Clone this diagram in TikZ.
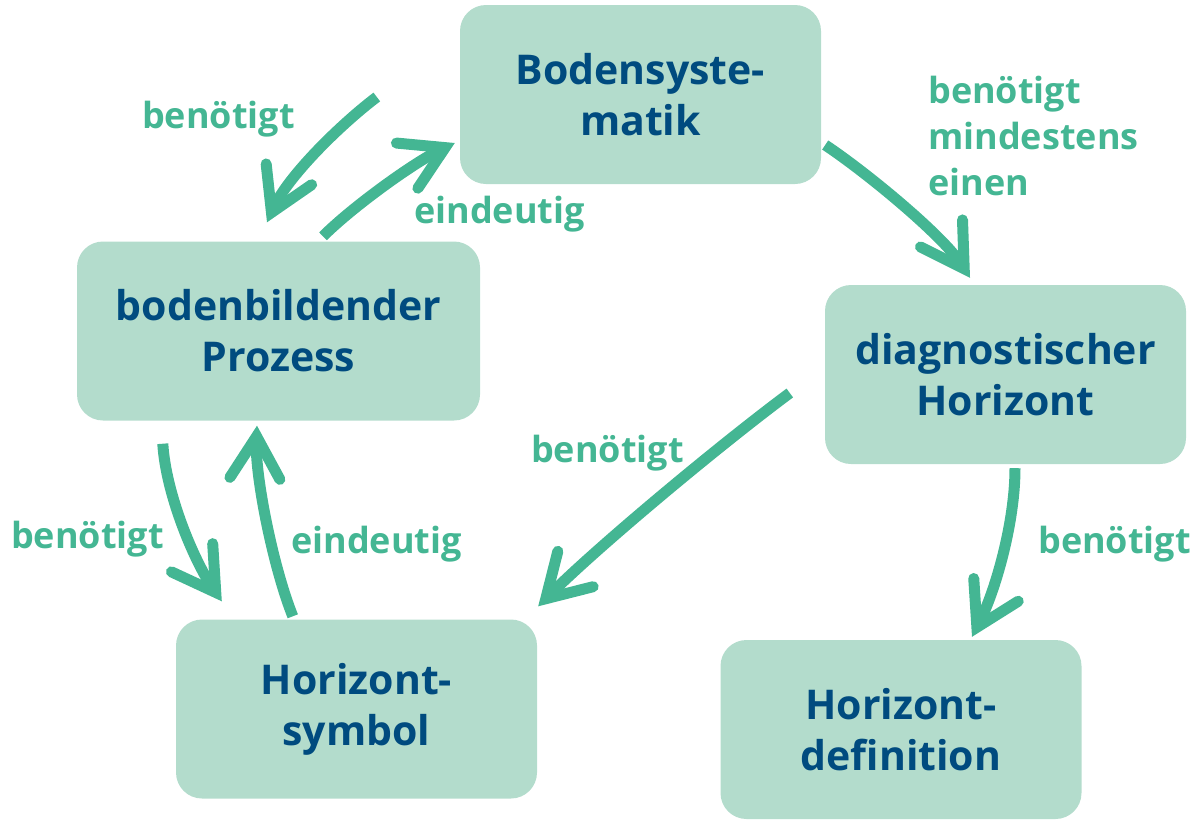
\documentclass[tikz,border=0pt]{standalone}
\usepackage{fontspec}
\setmainfont{Open Sans}
\usetikzlibrary{arrows.meta}
\definecolor{boxfill}{HTML}{B3DCCC}
\definecolor{boxtext}{HTML}{004B7F}
\definecolor{arrowgreen}{HTML}{44B693}

\begin{document}
\begin{tikzpicture}[x=1pt,y=-1pt,
  box/.style={rectangle, rounded corners=26pt, fill=boxfill, text=boxtext,
    minimum width=361pt, minimum height=179pt, inner sep=0pt, align=center,
    font=\fontsize{41}{51}\selectfont\bfseries},
  lbl/.style={text=arrowgreen, inner sep=0pt, anchor=base west,
    font=\fontsize{36}{46}\selectfont\bfseries},
  link/.style={draw=arrowgreen, line width=11pt, line cap=butt,
    -{Straight Barb[length=42pt,width=50pt,line cap=round,line join=miter]}}
]
\useasboundingbox (0,0) rectangle (1199,820);

% concept boxes
\node[box] (bs) at (640.5,94.5) {Bodensyste-\\matik};
\node[box, minimum width=403pt] (bp) at (278.5,331) {bodenbildender\\Prozess};
\node[box] (dh) at (1005.5,374.5) {diagnostischer\\Horizont};
\node[box] (hs) at (356.5,709) {Horizont-\\symbol};
\node[box] (hd) at (901,729.5) {Horizont-\\definition};

% relations
\draw[link] ([shift={(-83,2.5)}]bs.west) .. controls +(-37,28) and +(21,-46) .. ([shift={(-11.5,-19)}]bp.north);
\draw[link] ([shift={(44.5,-5)}]bp.north) .. controls +(30,-30) and +(-40,19) .. ([shift={(-5,48.5)}]bs.west);
\draw[link] ([shift={(4,50.5)}]bs.east) .. controls +(42,28) and +(-27,-42) .. ([shift={(-35.5,-7)}]dh.north);
\draw[link] ([shift={(-35,18.5)}]dh.west) .. controls +(-70,52) and +(60,-60) .. ([shift={(1,-13)}]hs.north east);
\draw[link] ([shift={(86,23)}]bp.south west) .. controls +(3,50) and +(-28,-41) .. ([shift={(46,-18)}]hs.north west);
\draw[link] ([shift={(117,-3)}]hs.north west) .. controls +(-20,-50) and +(-2,50) .. ([shift={(-21.5,5)}]bp.south);
\draw[link] ([shift={(9.5,4)}]dh.south) .. controls +(0,55) and +(23,-45) .. ([shift={(71,-3)}]hd.north);

% relation labels
\node[lbl] (l1) at (142,128) {benötigt};
\node[lbl] (l2) at (414,223) {eindeutig};
\node[lbl, align=left] (l3) at (928,195) {benötigt\\mindestens\\einen};
\node[lbl] (l4) at (531,462) {benötigt};
\node[lbl] (l5) at (11,548) {benötigt};
\node[lbl] (l6) at (291,553) {eindeutig};
\node[lbl] (l7) at (1038,553) {benötigt};
\end{tikzpicture}
\end{document}
